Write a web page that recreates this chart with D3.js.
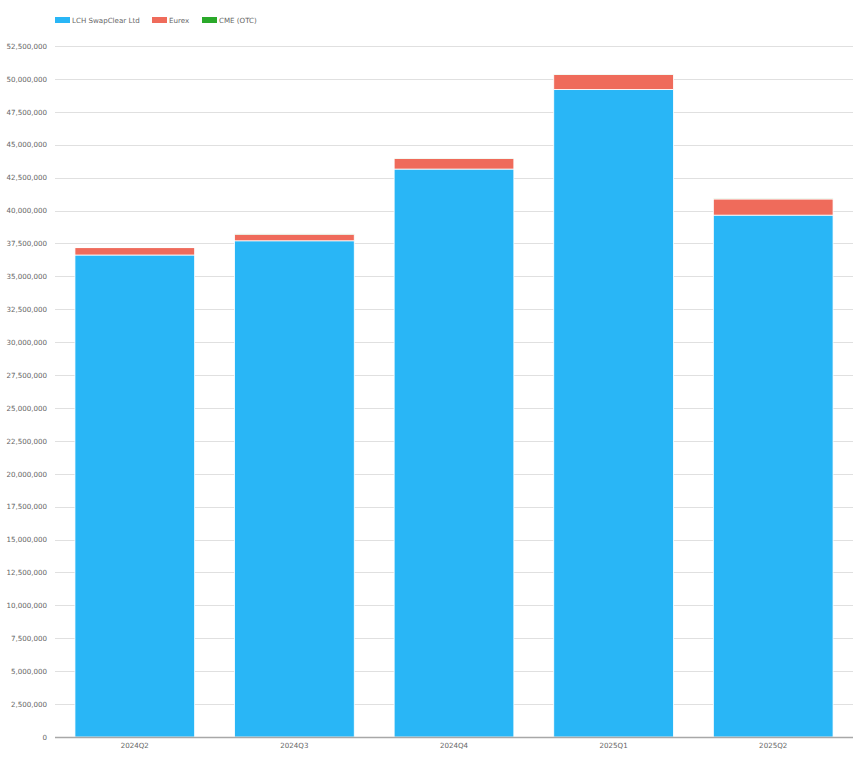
<!DOCTYPE html>
<html><head><meta charset="utf-8">
<script src="https://cdn.jsdelivr.net/npm/d3@7"></script>
<style>body{margin:0;background:#fff}svg{display:block}</style>
</head><body>
<svg id="c" width="861" height="764"></svg>
<script>
const categories = ["2024Q2","2024Q3","2024Q4","2025Q1","2025Q2"];
const seriesNames = ["LCH SwapClear Ltd","Eurex","CME (OTC)"];
const lchValues = [36620000, 37700000, 43150000, 49200000, 39650000];
const eurexValues = [560000, 500000, 810000, 1130000, 1230000];
const cmeValues = [20000, 20000, 20000, 20000, 20000];
const yTicks = d3.range(0, 52500001, 2500000);
const colors = ["#29b6f6", "#ef6b5b", "#2aa92a"];

(function(){
const svg = d3.select("#c");
const mLeft = 55, mRight = 853, mTop = 46, mBottom = 737;
const x = d3.scaleBand().domain(categories).range([mLeft, mRight]).paddingInner(0.25).paddingOuter(0.125);
const y = d3.scaleLinear().domain([0, 52500000]).range([mBottom, mTop]);
const font = "Verdana, 'DejaVu Sans', sans-serif";

// grid
svg.append("g").selectAll("line").data(yTicks.filter(d=>d>0)).join("line")
  .attr("x1", mLeft).attr("x2", mRight)
  .attr("y1", d=>Math.round(y(d))+0.5).attr("y2", d=>Math.round(y(d))+0.5)
  .attr("stroke", "#e0e0e0").attr("stroke-width", 1);

// y labels
const yAxis = d3.axisLeft(y).tickValues(yTicks).tickSize(0).tickPadding(0).tickFormat(d3.format(","));
const ya = svg.append("g").attr("transform", `translate(${mLeft-8},0)`).call(yAxis);
ya.select(".domain").remove();
ya.selectAll("text").attr("font-family", font).attr("font-size", 7.1).attr("fill", "#666");

// stacked bars
const rows = categories.map((c,i)=>({cat:c, lch:lchValues[i], eurex:eurexValues[i], cme:cmeValues[i]}));
const stack = d3.stack().keys(["lch","eurex","cme"])(rows);
svg.append("g").selectAll("g").data(stack).join("g")
  .attr("fill", (d,i)=>colors[i])
  .selectAll("rect").data(d=>d).join("rect")
  .attr("x", d=>x(d.data.cat))
  .attr("width", x.bandwidth())
  .attr("y", d=>y(d[1]))
  .attr("height", d=>Math.max(0, y(d[0])-y(d[1])))
  .attr("stroke", "#fff").attr("stroke-width", 0.8);

// x axis
svg.append("line").attr("x1", mLeft).attr("x2", mRight).attr("y1", mBottom+0.5).attr("y2", mBottom+0.5)
  .attr("stroke", "#a8a8a8").attr("stroke-width", 1.5);
const xAxis = d3.axisBottom(x).tickSize(0).tickPadding(6);
const xa = svg.append("g").attr("transform", `translate(0,${mBottom})`).call(xAxis);
xa.select(".domain").remove();
xa.selectAll("text").attr("font-family", font).attr("font-size", 7.1).attr("fill", "#666");

// legend
const legX = [55, 152, 202];
const lg = svg.append("g").selectAll("g").data(seriesNames).join("g")
  .attr("transform", (d,i)=>`translate(${legX[i]},17)`);
lg.append("rect").attr("width", 15).attr("height", 6).attr("fill", (d,i)=>colors[i]);
lg.append("text").attr("x", 17).attr("y", 5.5).text(d=>d)
  .attr("font-family", font).attr("font-size", 7.1).attr("fill", "#666");
})();
</script>
</body></html>
